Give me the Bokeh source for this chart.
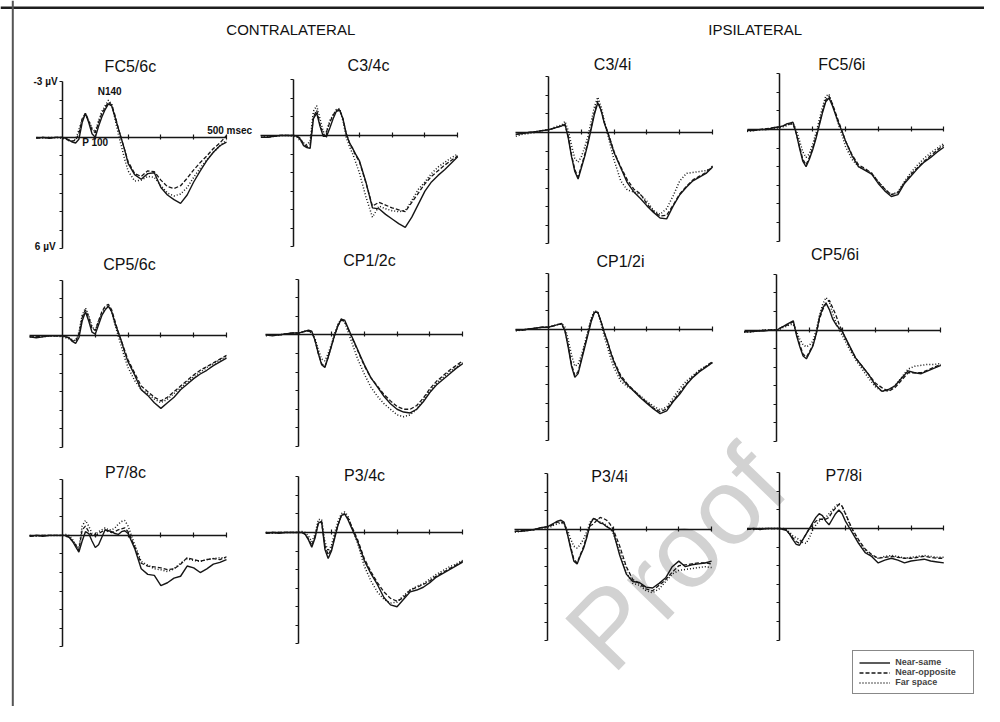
from bokeh.plotting import figure
from bokeh.models import (Range1d, LinearAxis, FixedTicker, CustomJSTickFormatter,
                          Label, Legend, LegendItem, Span)
from bokeh.embed import file_html
from bokeh.resources import INLINE

# ---------------- data (µV, negative up) ----------------
T = [-100, -80, -60, -40, -20,
     0, 10, 20, 30, 40, 50, 60, 70, 80, 90, 100, 110, 120, 130, 140, 150, 160, 170, 180, 190, 200,
     220, 240, 260, 280, 300, 320, 340, 360, 380, 400, 420, 440, 460, 480, 500]

CONDITIONS = ["Near-same", "Near-opposite", "Far space"]
TITLES = ["FC5/6c", "C3/4c", "C3/4i", "FC5/6i",
          "CP5/6c", "CP1/2c", "CP1/2i", "CP5/6i",
          "P7/8c", "P3/4c", "P3/4i", "P7/8i"]
HEADERS = ["CONTRALATERAL", "IPSILATERAL"]

fc56c_ns = [0.0, 0.05, 0.0, 0.05, 0.0,
            0.0, 0.05, 0.15, 0.25, 0.3, 0.1, -0.8, -1.3, -0.8, -0.2, 0.0, -0.6, -1.1, -1.5, -1.8, -1.7, -1.1, -0.5, 0.1, 0.7, 1.4,
            2.0, 2.25, 1.95, 1.9, 2.7, 3.1, 3.35, 3.55, 3.1, 2.4, 1.8, 1.25, 0.8, 0.45, 0.25]
fc56c_no = [0.0, 0.02, 0.0, 0.03, 0.0,
            0.0, 0.05, 0.2, 0.2, 0.15, -0.2, -1.0, -1.3, -0.9, -0.4, -0.25, -0.8, -1.3, -1.6, -1.9, -1.75, -1.2, -0.5, 0.1, 0.7, 1.3,
            1.95, 2.1, 1.8, 1.85, 2.3, 2.65, 2.75, 2.6, 2.2, 1.75, 1.35, 1.0, 0.6, 0.3, -0.1]
fc56c_fs = [0.0, 0.0, 0.03, 0.0, 0.0,
            0.05, 0.1, 0.15, 0.2, 0.1, -0.4, -1.0, -1.2, -0.9, -0.5, -0.3, -0.9, -1.4, -1.7, -2.0, -1.8, -1.0, -0.2, 0.5, 1.2, 1.8,
            2.35, 2.3, 2.1, 2.15, 2.6, 3.0, 3.15, 3.05, 2.7, 2.15, 1.65, 1.2, 0.8, 0.45, 0.15]

c34c_ns = [0.1, 0.1, 0.05, 0.0, 0.0,
           0.0, 0.05, 0.2, 0.55, 0.65, 0.7, -0.9, -1.2, -0.5, 0.05, 0.05, -0.4, -0.9, -1.3, -1.35, -0.9, -0.1, 0.4, 0.7, 1.05, 1.35,
           2.5, 3.9, 3.95, 4.25, 4.5, 4.75, 4.95, 4.4, 3.7, 3.0, 2.5, 2.15, 1.85, 1.5, 1.15]
c34c_no = [0.1, 0.1, 0.05, 0.0, 0.0,
           0.0, 0.05, 0.15, 0.45, 0.6, 0.5, -1.0, -1.35, -0.6, 0.0, -0.2, -0.7, -1.1, -1.35, -1.4, -0.9, -0.1, 0.4, 0.75, 1.1, 1.4,
           2.55, 3.8, 3.6, 3.75, 3.9, 4.0, 4.1, 3.6, 3.1, 2.6, 2.2, 1.9, 1.6, 1.35, 1.1]
c34c_fs = [0.1, 0.05, 0.05, 0.0, 0.0,
           0.05, 0.1, 0.3, 0.4, 0.5, 0.3, -1.3, -1.6, -0.9, -0.2, -0.2, -0.8, -1.1, -1.4, -1.45, -0.8, 0.1, 0.6, 1.0, 1.5, 2.0,
           3.3, 4.4, 3.8, 3.95, 4.05, 4.1, 4.05, 3.5, 2.9, 2.5, 2.05, 1.7, 1.45, 1.2, 1.0]

c34i_ns = [0.1, 0.05, 0.0, -0.05, -0.1,
           -0.15, -0.2, -0.25, -0.3, -0.35, -0.45, 0.3, 1.3, 2.1, 2.5, 1.9, 1.3, 0.6, -0.2, -1.0, -1.6, -1.2, -0.5, 0.0, 0.55, 1.1,
           1.9, 2.7, 3.2, 3.55, 3.95, 4.3, 4.6, 4.65, 3.95, 3.35, 2.95, 2.6, 2.4, 2.2, 1.85]
c34i_no = [0.1, 0.05, 0.0, -0.05, -0.1,
           -0.15, -0.2, -0.25, -0.3, -0.35, -0.4, 0.2, 1.2, 2.0, 2.4, 1.8, 1.2, 0.5, -0.3, -1.1, -1.7, -1.2, -0.55, -0.05, 0.5, 1.05,
           1.85, 2.55, 3.05, 3.3, 3.85, 4.25, 4.5, 4.45, 3.9, 3.3, 2.9, 2.55, 2.35, 2.15, 1.8]
c34i_fs = [0.2, 0.1, 0.05, 0.0, -0.1,
           -0.15, -0.2, -0.3, -0.35, -0.4, -0.6, -0.1, 0.7, 1.4, 1.6, 1.3, 0.8, 0.2, -0.6, -1.4, -1.9, -1.4, -0.6, 0.1, 0.8, 1.5,
           2.6, 3.1, 3.2, 3.35, 3.7, 4.2, 4.4, 4.1, 3.4, 2.6, 2.2, 2.15, 2.1, 2.05, 1.9]

fc56i_ns = [0.05, 0.05, 0.0, 0.0, -0.1,
            -0.15, -0.2, -0.3, -0.35, -0.4, 0.2, 1.0, 1.7, 2.0, 1.6, 1.1, 0.5, -0.2, -0.9, -1.5, -1.7, -1.3, -0.8, -0.3, 0.1, 0.6,
            1.4, 2.0, 2.2, 2.4, 2.9, 3.3, 3.6, 3.5, 2.9, 2.5, 2.1, 1.75, 1.5, 1.2, 0.95]
fc56i_no = [0.05, 0.0, 0.0, -0.05, -0.1,
            -0.15, -0.2, -0.25, -0.3, -0.3, 0.2, 0.9, 1.6, 1.9, 1.5, 1.0, 0.4, -0.3, -1.0, -1.6, -1.8, -1.4, -0.9, -0.4, 0.1, 0.6,
            1.35, 1.9, 2.1, 2.35, 2.8, 3.2, 3.5, 3.4, 2.85, 2.4, 2.05, 1.7, 1.4, 1.1, 0.85]
fc56i_fs = [0.1, 0.05, 0.0, 0.0, -0.05,
            -0.1, -0.15, -0.2, -0.3, -0.35, 0.0, 0.6, 1.2, 1.5, 1.3, 0.8, 0.2, -0.5, -1.2, -1.8, -1.9, -1.4, -0.8, -0.2, 0.3, 0.9,
            1.6, 2.0, 2.15, 2.35, 2.8, 3.2, 3.5, 3.35, 2.8, 2.3, 1.9, 1.55, 1.25, 1.0, 0.75]

cp56c_ns = [0.05, 0.1, 0.05, 0.0, 0.0,
            0.0, 0.05, 0.1, 0.3, 0.4, 0.1, -0.8, -1.3, -0.8, -0.2, -0.1, -0.6, -1.1, -1.4, -1.6, -1.3, -0.7, -0.2, 0.3, 0.9, 1.4,
            2.1, 2.9, 3.2, 3.6, 3.9, 3.6, 3.3, 2.9, 2.6, 2.3, 2.05, 1.85, 1.6, 1.4, 1.2]
cp56c_no = [0.05, 0.05, 0.0, 0.0, 0.0,
            0.0, 0.05, 0.1, 0.25, 0.3, -0.1, -1.0, -1.4, -1.0, -0.4, -0.3, -0.8, -1.3, -1.6, -1.7, -1.4, -0.8, -0.2, 0.3, 0.8, 1.3,
            2.0, 2.7, 3.0, 3.3, 3.5, 3.3, 3.0, 2.7, 2.4, 2.1, 1.85, 1.65, 1.45, 1.25, 1.05]
cp56c_fs = [0.05, 0.05, 0.05, 0.0, 0.0,
            0.05, 0.1, 0.15, 0.2, 0.25, -0.2, -1.1, -1.5, -1.1, -0.5, -0.3, -0.8, -1.2, -1.5, -1.6, -1.3, -0.6, 0.0, 0.6, 1.2, 1.7,
            2.4, 2.9, 3.1, 3.4, 3.6, 3.4, 3.1, 2.8, 2.5, 2.2, 1.95, 1.7, 1.5, 1.3, 1.1]

cp12c_ns = [0.0, 0.05, 0.0, -0.05, -0.1,
            -0.1, -0.15, -0.2, -0.25, -0.2, 0.3, 1.0, 1.6, 1.75, 1.2, 0.6, 0.0, -0.5, -0.85, -0.8, -0.4, 0.0, 0.4, 0.8, 1.2, 1.6,
            2.3, 2.8, 3.3, 3.7, 4.0, 4.15, 4.2, 4.0, 3.6, 3.1, 2.7, 2.4, 2.1, 1.8, 1.55]
cp12c_no = [0.0, 0.0, 0.0, -0.05, -0.1,
            -0.1, -0.15, -0.2, -0.2, -0.15, 0.3, 1.0, 1.55, 1.7, 1.2, 0.6, 0.0, -0.5, -0.8, -0.75, -0.35, 0.05, 0.45, 0.85, 1.25, 1.65,
            2.3, 2.75, 3.2, 3.55, 3.85, 4.0, 4.0, 3.8, 3.4, 2.9, 2.5, 2.2, 1.9, 1.65, 1.4]
cp12c_fs = [0.05, 0.0, 0.0, -0.05, -0.1,
            -0.1, -0.15, -0.2, -0.2, -0.1, 0.2, 0.8, 1.3, 1.4, 1.0, 0.5, -0.1, -0.6, -0.85, -0.7, -0.2, 0.3, 0.8, 1.3, 1.7, 2.1,
            2.8, 3.3, 3.7, 4.0, 4.3, 4.4, 4.3, 4.0, 3.5, 3.0, 2.6, 2.3, 2.0, 1.75, 1.5]

cp12i_ns = [0.05, 0.05, 0.0, -0.05, -0.1,
            -0.1, -0.15, -0.2, -0.25, -0.3, 0.1, 1.0, 2.0, 2.6, 2.4, 1.7, 1.0, 0.3, -0.4, -0.9, -0.9, -0.4, 0.2, 0.7, 1.3, 1.8,
            2.6, 3.0, 3.35, 3.7, 4.0, 4.3, 4.55, 4.4, 3.9, 3.5, 3.0, 2.6, 2.3, 2.05, 1.8]
cp12i_no = [0.05, 0.05, 0.0, -0.05, -0.1,
            -0.1, -0.15, -0.2, -0.25, -0.25, 0.1, 0.9, 1.9, 2.5, 2.3, 1.6, 0.9, 0.2, -0.5, -0.95, -0.9, -0.4, 0.2, 0.7, 1.25, 1.75,
            2.5, 2.95, 3.3, 3.65, 3.95, 4.25, 4.45, 4.3, 3.85, 3.4, 2.95, 2.55, 2.25, 2.0, 1.75]
cp12i_fs = [0.1, 0.05, 0.0, -0.05, -0.1,
            -0.1, -0.15, -0.2, -0.25, -0.3, -0.1, 0.6, 1.4, 2.0, 1.9, 1.4, 0.8, 0.1, -0.6, -1.0, -0.9, -0.3, 0.4, 1.0, 1.6, 2.1,
            2.8, 3.1, 3.3, 3.6, 3.9, 4.15, 4.35, 4.2, 3.7, 3.2, 2.8, 2.5, 2.2, 2.0, 1.8]

cp56i_ns = [0.1, 0.1, 0.05, 0.05, 0.0,
            0.0, -0.1, -0.2, -0.3, -0.4, -0.5, 0.3, 0.9, 1.4, 1.55, 1.2, 0.85, 0.2, -0.7, -1.2, -1.45, -1.1, -0.6, -0.3, -0.1, 0.1,
            0.8, 1.5, 1.95, 2.4, 2.95, 3.3, 3.2, 3.0, 2.6, 2.2, 2.3, 2.35, 2.2, 2.05, 1.9]
cp56i_no = [0.1, 0.05, 0.05, 0.0, 0.0,
            0.0, -0.1, -0.2, -0.25, -0.35, -0.45, 0.2, 0.8, 1.3, 1.45, 1.15, 0.8, 0.2, -0.6, -1.1, -1.45, -1.6, -1.2, -0.8, -0.3, 0.1,
            0.85, 1.5, 1.95, 2.4, 2.85, 3.1, 3.3, 3.1, 2.7, 2.3, 2.3, 2.3, 2.15, 2.0, 1.85]
cp56i_fs = [0.1, 0.1, 0.05, 0.0, 0.0,
            0.0, -0.05, -0.15, -0.2, -0.3, -0.3, 0.1, 0.5, 0.8, 0.9, 0.8, 0.6, 0.0, -0.8, -1.4, -1.75, -1.5, -0.9, -0.4, 0.0, 0.3,
            1.0, 1.6, 2.1, 2.6, 3.05, 3.3, 3.25, 3.0, 2.55, 2.1, 1.95, 1.9, 1.85, 1.85, 1.8]

p78c_ns = [0.05, 0.0, 0.05, 0.0, 0.0,
           0.0, 0.0, 0.1, 0.3, 0.6, 0.9, 0.3, -0.2, -0.1, 0.3, 0.65, 0.5, 0.1, -0.3, -0.25, -0.2, -0.1, -0.05, -0.2, -0.25, -0.1,
           0.7, 1.8, 2.1, 2.15, 2.7, 2.55, 2.3, 2.2, 1.65, 1.75, 2.0, 1.8, 1.55, 1.45, 1.3]
p78c_no = [0.05, 0.0, 0.0, 0.0, 0.0,
           0.0, 0.05, 0.1, 0.3, 0.5, 0.8, -0.3, -0.5, -0.2, 0.0, 0.05, -0.1, -0.2, -0.3, -0.2, -0.15, -0.2, -0.3, -0.35, -0.4, -0.2,
           0.6, 1.5, 1.65, 1.7, 1.75, 1.85, 1.8, 1.55, 1.2, 1.3, 1.4, 1.3, 1.25, 1.3, 1.15]
p78c_fs = [0.0, 0.05, 0.0, 0.0, 0.0,
           0.0, -0.05, 0.0, 0.2, 0.5, 0.7, -0.5, -0.8, -0.5, -0.1, -0.05, -0.2, -0.3, -0.4, -0.3, -0.3, -0.4, -0.6, -0.75, -0.8, -0.5,
           0.5, 1.4, 1.6, 1.8, 1.85, 1.95, 1.8, 1.5, 1.25, 1.35, 1.4, 1.3, 1.25, 1.2, 1.2]

p34c_ns = [0.05, 0.0, 0.05, 0.0, 0.0,
           0.0, 0.0, 0.1, 0.4, 0.8, 0.3, -0.5, -0.6, 0.9, 1.4, 1.0, 0.3, -0.4, -0.9, -1.0, -0.7, -0.3, 0.1, 0.5, 1.0, 1.5,
           2.2, 2.8, 3.5, 3.9, 4.0, 3.6, 3.2, 3.1, 2.95, 2.7, 2.4, 2.2, 2.0, 1.8, 1.6]
p34c_no = [0.05, 0.0, 0.0, 0.0, 0.0,
           0.0, 0.0, 0.1, 0.35, 0.7, 0.2, -0.5, -0.55, 0.7, 1.2, 0.9, 0.2, -0.4, -0.9, -1.0, -0.8, -0.4, 0.0, 0.4, 0.9, 1.4,
           2.1, 2.7, 3.2, 3.55, 3.7, 3.5, 3.1, 2.95, 2.8, 2.6, 2.35, 2.15, 1.95, 1.75, 1.55]
p34c_fs = [0.0, 0.05, 0.0, 0.0, 0.0,
           0.0, -0.05, 0.0, 0.2, 0.5, 0.1, -0.7, -0.7, 0.5, 1.0, 0.7, 0.0, -0.6, -1.0, -1.1, -0.9, -0.4, 0.1, 0.6, 1.2, 1.8,
           2.6, 3.2, 3.6, 3.8, 3.75, 3.4, 3.1, 2.9, 2.75, 2.5, 2.25, 2.05, 1.85, 1.7, 1.5]

p34i_ns = [0.1, 0.1, 0.05, 0.0, -0.1,
           -0.15, -0.25, -0.35, -0.45, -0.5, -0.4, 0.2, 1.0, 1.7, 1.85, 1.4, 1.0, 0.4, -0.3, -0.6, -0.5, -0.35, -0.3, -0.15, -0.05, 0.1,
           1.4, 2.4, 2.8, 2.85, 3.1, 3.15, 2.9, 2.6, 2.0, 1.7, 2.0, 1.9, 1.85, 1.8, 1.7]
p34i_no = [0.1, 0.05, 0.05, 0.0, -0.1,
           -0.15, -0.2, -0.3, -0.4, -0.4, -0.35, 0.2, 0.9, 1.6, 1.8, 1.35, 0.9, 0.3, -0.2, -0.3, -0.5, -0.65, -0.6, -0.5, -0.3, 0.0,
           0.9, 2.0, 2.7, 2.9, 3.2, 3.3, 3.0, 2.7, 2.3, 1.95, 1.9, 1.85, 1.8, 1.8, 1.85]
p34i_fs = [0.15, 0.1, 0.05, 0.0, -0.05,
           -0.1, -0.15, -0.25, -0.3, -0.35, -0.3, 0.0, 0.5, 0.9, 1.0, 0.8, 0.5, 0.1, -0.4, -0.6, -0.55, -0.4, -0.35, -0.2, -0.05, 0.2,
           1.2, 2.3, 2.9, 3.0, 3.3, 3.4, 3.2, 2.8, 2.4, 2.2, 2.15, 2.1, 2.05, 2.0, 2.05]

p78i_ns = [0.05, 0.0, 0.05, 0.0, 0.0,
           0.0, 0.05, 0.1, 0.3, 0.6, 0.85, 0.9, 0.6, 0.3, 0.0, -0.3, -0.6, -0.8, -0.7, -0.4, -0.2, -0.5, -0.8, -1.0, -0.8, -0.4,
           0.2, 0.8, 1.3, 1.5, 1.85, 1.7, 1.6, 1.7, 1.85, 1.75, 1.7, 1.65, 1.75, 1.8, 1.85]
p78i_no = [0.05, 0.05, 0.0, 0.0, 0.0,
           0.0, 0.0, 0.1, 0.3, 0.5, 0.7, 0.8, 0.6, 0.3, 0.0, -0.2, -0.4, -0.5, -0.5, -0.5, -0.6, -0.9, -1.1, -1.3, -1.2, -0.8,
           0.0, 0.6, 1.1, 1.4, 1.6, 1.55, 1.5, 1.55, 1.6, 1.6, 1.55, 1.5, 1.55, 1.6, 1.6]
p78i_fs = [0.0, 0.05, 0.0, 0.0, 0.0,
           0.0, 0.0, 0.05, 0.2, 0.4, 0.5, 0.6, 0.75, 0.8, 0.5, 0.1, -0.2, -0.4, -0.5, -0.6, -0.8, -1.0, -1.2, -1.35, -1.2, -0.8,
           0.1, 0.7, 1.2, 1.45, 1.6, 1.5, 1.45, 1.5, 1.6, 1.55, 1.5, 1.45, 1.5, 1.55, 1.55]

SERIES = [
    (fc56c_ns, fc56c_no, fc56c_fs), (c34c_ns, c34c_no, c34c_fs),
    (c34i_ns, c34i_no, c34i_fs), (fc56i_ns, fc56i_no, fc56i_fs),
    (cp56c_ns, cp56c_no, cp56c_fs), (cp12c_ns, cp12c_no, cp12c_fs),
    (cp12i_ns, cp12i_no, cp12i_fs), (cp56i_ns, cp56i_no, cp56i_fs),
    (p78c_ns, p78c_no, p78c_fs), (p34c_ns, p34c_no, p34c_fs),
    (p34i_ns, p34i_no, p34i_fs), (p78i_ns, p78i_no, p78i_fs),
]

# ---------------- layout (reference-pixel positions of each panel) ----------------
W, H = 984, 706            # canvas
RW, RH = 1000.0, 722.0     # layout units
SX, SY = W / RW, H / RH
AXX = [63, 298, 557, 792, 63, 303, 557, 789, 63, 303, 556, 792]     # y-axis position
ZERO = [140, 138, 135, 132, 343, 342, 336, 337, 547, 544, 541, 540]  # zero line
TTX = [132, 374, 622, 855, 131, 375, 630, 848, 127, 370, 619, 857]  # title centre
TTY = [68, 66, 65, 65, 270, 266, 267, 260, 483, 486, 487, 486]
T0 = [-80, -100, -100, -100, -100, -100, -100, -100, -100, -100, -100, -100]
MS_PER_U = 3.0     # ms per layout unit
U_PER_UV = 19.0    # layout units per µV
FONT = "Liberation Sans"
INK = "#161616"
STYLES = [("solid", 1.4), ("4 2", 1.3), ("1 2", 1.5)]

p = figure(width=W, height=H, x_range=Range1d(0, RW), y_range=Range1d(RH, 0),
           x_axis_type=None, y_axis_type=None, output_backend="svg",
           toolbar_location=None, min_border=0)
p.outline_line_color = None
p.background_fill_color = "white"
p.border_fill_color = "white"

xr, yr = {}, {}
for k in range(12):
    xr[f"x{k}"] = Range1d((0 - AXX[k]) * MS_PER_U, (RW - AXX[k]) * MS_PER_U)
    yr[f"y{k}"] = Range1d((RH - ZERO[k]) / U_PER_UV, (0 - ZERO[k]) / U_PER_UV)
p.extra_x_ranges = xr
p.extra_y_ranges = yr


def empty_fmt():
    return CustomJSTickFormatter(code="return ''")


legend_renderers = None
for k in range(12):
    xn, yn = f"x{k}", f"y{k}"
    yax = LinearAxis(x_range_name=xn, y_range_name=yn, fixed_location=0, bounds=(-3, 6),
                     ticker=FixedTicker(ticks=list(range(-3, 7))), formatter=empty_fmt(),
                     major_tick_out=3, major_tick_in=0, minor_tick_out=0, minor_tick_in=0,
                     axis_line_width=1.5, axis_line_color=INK,
                     major_tick_line_color=INK, major_tick_line_width=1.2,
                     major_label_standoff=0)
    p.add_layout(yax, "left")
    xax = LinearAxis(x_range_name=xn, y_range_name=yn, fixed_location=0, bounds=(T0[k], 500),
                     ticker=FixedTicker(ticks=[100, 200, 300, 400, 500]), formatter=empty_fmt(),
                     major_tick_out=2, major_tick_in=3, minor_tick_out=0, minor_tick_in=0,
                     axis_line_width=1.5, axis_line_color=INK,
                     major_tick_line_color=INK, major_tick_line_width=1.2,
                     major_label_standoff=0)
    p.add_layout(xax, "below")

    idx = [i for i, t in enumerate(T) if t >= T0[k]]
    ts = [T[i] for i in idx]
    rends = []
    for s, (dash, lw) in zip(SERIES[k], STYLES):
        rends.append(p.line(ts, [s[i] for i in idx], x_range_name=xn, y_range_name=yn,
                            line_color=INK, line_width=lw, line_dash=dash))
    if k == 11:
        legend_renderers = rends

    p.add_layout(Label(x=TTX[k], y=TTY[k], text=TITLES[k], text_font=FONT,
                       text_font_size="16px", text_color="#111111",
                       text_align="center", text_baseline="middle"))

# frame lines
p.add_layout(Span(location=7.5, dimension="width", line_color="#1e1e1e", line_width=2.5))
p.add_layout(Span(location=12.5, dimension="height", line_color="#555555", line_width=2))

# column headers
for txt, cx in zip(HEADERS, [295, 767]):
    p.add_layout(Label(x=cx, y=30, text=txt, text_font=FONT, text_font_size="15px",
                       text_color="#111111", text_align="center", text_baseline="middle"))

# annotations of the first panel
small = dict(text_font=FONT, text_font_size="10px", text_font_style="bold",
             text_color="#111111", text_baseline="middle")
p.add_layout(Label(x=58, y=83, text="-3 µV", text_align="right", **small))
p.add_layout(Label(x=56, y=252, text="6 µV", text_align="right", **small))
p.add_layout(Label(x=111, y=93, text="N140", text_align="center", **small))
p.add_layout(Label(x=83, y=145, text="P 100", text_align="left", **small))
p.add_layout(Label(x=210, y=133, text="500 msec", text_align="left", **small))

# watermark
p.add_layout(Label(x=686, y=570, text="Proof", angle=0.80, text_align="center",
                   text_baseline="middle", text_font=FONT, text_font_size="108px",
                   text_color="#d2d2d2", level="underlay"))

leg = Legend(items=[LegendItem(label=lab, renderers=[rr])
                    for lab, rr in zip(CONDITIONS, legend_renderers)],
             location=(866 * SX, (RH - 710) * SY), label_text_font=FONT,
             label_text_font_size="9px", label_text_font_style="bold",
             label_height=9, glyph_height=9, glyph_width=31, label_width=72,
             label_standoff=5, padding=6, spacing=0, margin=0,
             border_line_color="#111111", border_line_width=1.2,
             background_fill_color="white", background_fill_alpha=1.0)
p.add_layout(leg)

open("out.html", "w").write(file_html(p, INLINE))
